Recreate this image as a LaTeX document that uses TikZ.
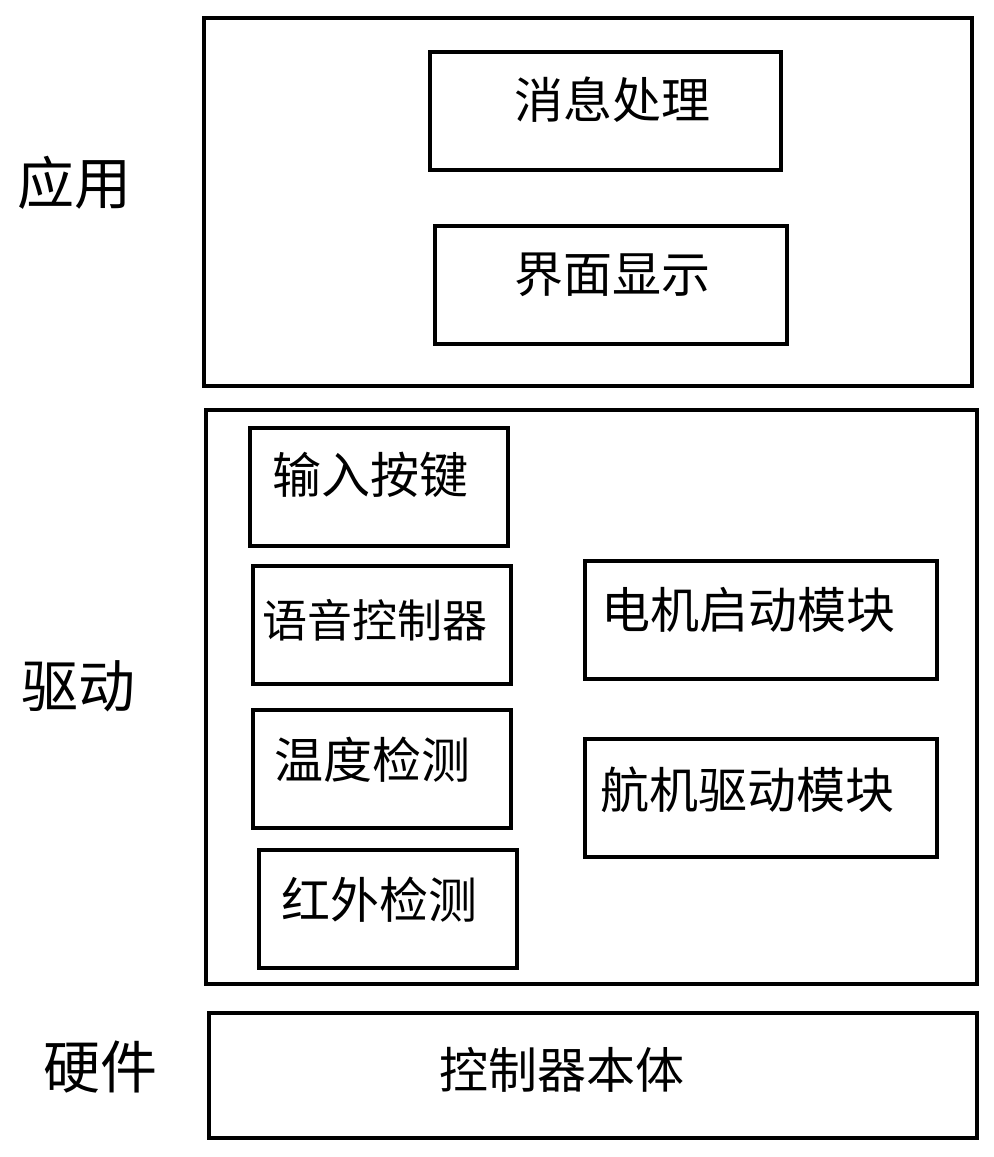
\documentclass[tikz,border=0pt]{standalone}
\usepackage{fontspec}
\setmainfont{Noto Sans CJK SC}
\usepackage{tikz}

\begin{document}
\begin{tikzpicture}[x=0.5pt,y=-0.5pt]
        %
        % `layer' is used for the big frames of each level.
        % `module' is used for the small boxes inside them.
        % `word' is used for the text written in the boxes.
        % `tag' is used for the level names on the left.
        \tikzstyle{layer} = [draw,line width=2pt,inner sep=0pt]
        \tikzstyle{module} = [draw,line width=2pt,inner sep=0pt,minimum height=59pt]
        \tikzstyle{word} = [font=\fontsize{24.5}{30}\selectfont]
        \tikzstyle{tag} = [font=\fontsize{28.5}{34}\selectfont]
        \useasboundingbox (0,0) rectangle (994,1157);
        %
        % Application level
        \node[layer,minimum width=384pt,minimum height=184pt] (app) at (588,202) {};
        \node[module,minimum width=175.5pt] (msg) at (605.5,110.5) {};
        \node[word] (msgtext) at (612,100) {消息处理};
        \node[module,minimum width=176pt] (ui) at (611,285) {};
        \node[word] (uitext) at (612,275) {界面显示};
        \node[tag] (appname) at (75,183) {应用};
        %
        % Driver level
        \node[layer,minimum width=385.5pt,minimum height=287pt] (drv) at (591.5,697) {};
        \node[module,minimum width=129pt] (key) at (379,487) {};
        \node[word] (keytext) at (370,475) {输入按键};
        \node[module,minimum width=129pt] (voice) at (382,625) {};
        \node[word,font=\fontsize{22.5}{27}\selectfont] (voicetext) at (375,620) {语音控制器};
        \node[module,minimum width=129pt] (temp) at (382,769) {};
        \node[word] (temptext) at (372,760) {温度检测};
        \node[module,minimum width=129pt] (ir) at (388,909) {};
        \node[word] (irtext) at (379,900) {红外检测};
        \node[module,minimum width=176pt] (motor) at (761,620) {};
        \node[word] (motortext) at (748,610) {电机启动模块};
        \node[module,minimum width=176pt] (servo) at (761,798) {};
        \node[word] (servotext) at (747,790) {航机驱动模块};
        \node[tag] (drvname) at (78,686) {驱动};
        %
        % Hardware level
        \node[layer,minimum width=384pt,minimum height=62.5pt] (hw) at (593,1075.5) {};
        \node[word] (hwtext) at (562,1070) {控制器本体};
        \node[tag] (hwname) at (100,1067) {硬件};
        %
\end{tikzpicture}
\end{document}
